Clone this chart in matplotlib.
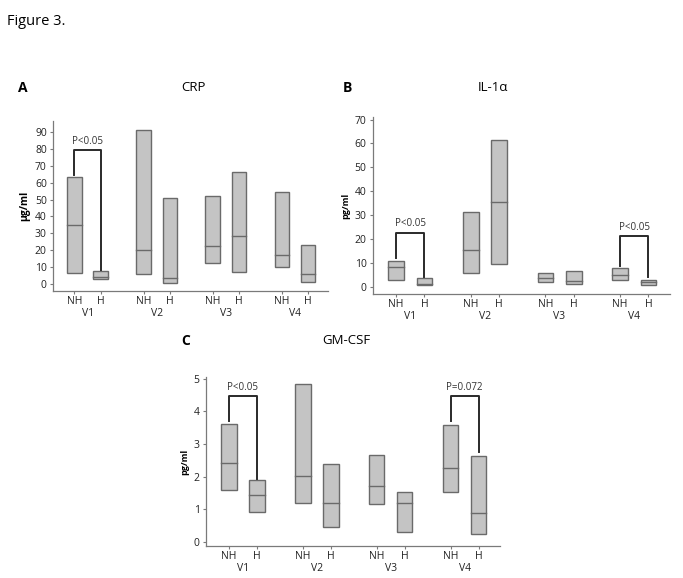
import numpy as np
import matplotlib
matplotlib.use('Agg')
import matplotlib.pyplot as plt

plt.rcParams['font.family'] = ['Open Sans', 'DejaVu Sans']

visits = ['V1', 'V2', 'V3', 'V4']
groups = ['NH', 'H']

# CRP (µg/ml): bottom, median, top of each box
crp_nh_low = [6.5, 6.1, 12.3, 10.3]
crp_nh_med = [34.7, 20.0, 22.8, 17.0]
crp_nh_high = [63.6, 91.4, 52.0, 54.3]
crp_h_low = [3.2, 0.8, 6.9, 1.4]
crp_h_med = [4.4, 3.4, 28.7, 5.7]
crp_h_high = [7.9, 50.8, 66.2, 23.4]

# IL-1a (pg/ml)
il_nh_low = [2.8, 5.7, 2.1, 2.9]
il_nh_med = [8.6, 15.7, 3.8, 5.0]
il_nh_high = [11.1, 31.2, 6.0, 8.1]
il_h_low = [0.7, 9.5, 1.4, 0.7]
il_h_med = [1.3, 35.5, 2.5, 2.2]
il_h_high = [3.9, 61.6, 6.7, 2.9]

# GM-CSF (pg/ml)
gm_nh_low = [1.60, 1.21, 1.15, 1.53]
gm_nh_med = [2.41, 2.03, 1.71, 2.28]
gm_nh_high = [3.61, 4.83, 2.65, 3.58]
gm_h_low = [0.93, 0.45, 0.32, 0.26]
gm_h_med = [1.45, 1.21, 1.21, 0.90]
gm_h_high = [1.89, 2.39, 1.52, 2.63]

# significance brackets: visit index, bar height, left leg end, right leg end, label
crp_sig = [(0, 79.5, 64.5, 8.5, 'P<0.05')]
il_sig = [(0, 22.7, 12.0, 4.3, 'P<0.05'), (3, 21.3, 8.8, 4.3, 'P<0.05')]
gm_sig = [(0, 4.47, 3.71, 1.92, 'P<0.05'), (3, 4.47, 3.71, 2.75, 'P=0.072')]

box_face = '#c4c4c4'
box_edge = '#6a6a6a'
axis_col = '#7a7a7a'
off = 0.19
width = 0.21


def draw_panel(ax, nh, h, sig, yticks, ylim, ylabel, ylabel_size, sig_pad):
    for i in range(len(visits)):
        for x, (lo, med, hi) in [(i - off, (nh[0][i], nh[1][i], nh[2][i])),
                                 (i + off, (h[0][i], h[1][i], h[2][i]))]:
            ax.bar(x, hi - lo, bottom=lo, width=width, color=box_face,
                   edgecolor=box_edge, linewidth=1.0, zorder=2)
            ax.plot([x - width / 2, x + width / 2], [med, med],
                    color=box_edge, linewidth=1.0, zorder=3)
    for vi, top, left_end, right_end, label in sig:
        xl, xr = vi - off, vi + off
        ax.plot([xl, xl, xr, xr], [left_end, top, top, right_end],
                color='#2a2a2a', linewidth=1.4, zorder=4)
        ax.text(vi, top + sig_pad, label, ha='center', va='bottom',
                fontsize=7, color='#333333')
    ax.set_xlim(-0.5, 3.48)
    ax.set_ylim(*ylim)
    ax.set_yticks(yticks)
    pos = []
    labs = []
    for i in range(len(visits)):
        pos += [i - off, i + off]
        labs += groups
    ax.set_xticks(pos)
    ax.set_xticklabels(labs)
    for i, v in enumerate(visits):
        ax.annotate(v, xy=(i, 0), xycoords=ax.get_xaxis_transform(),
                    xytext=(0, -16.5), textcoords='offset points',
                    ha='center', va='center', fontsize=7.5, color='#222222')
    ax.tick_params(axis='both', labelsize=7.5, length=2.5, width=0.8,
                   color=axis_col, labelcolor='#222222', pad=2)
    ax.tick_params(axis='x', pad=1)
    for s in ['top', 'right']:
        ax.spines[s].set_visible(False)
    for s in ['left', 'bottom']:
        ax.spines[s].set_color(axis_col)
        ax.spines[s].set_linewidth(0.9)
    ax.set_ylabel(ylabel, fontsize=ylabel_size, fontweight='bold', labelpad=3)


fig = plt.figure(figsize=(6.83, 5.78), dpi=100)
fig.text(0.010, 0.975, 'Figure 3.', fontsize=10.5, ha='left', va='top')

ax_a = fig.add_axes([0.0776, 0.4965, 0.403, 0.294])
draw_panel(ax_a, (crp_nh_low, crp_nh_med, crp_nh_high),
           (crp_h_low, crp_h_med, crp_h_high), crp_sig,
           np.arange(0, 100, 10), (-4.1, 96.4), 'µg/ml', 7.5, 1.5)
fig.text(0.026, 0.848, 'A', fontsize=10, fontweight='bold', va='center')
fig.text(0.283, 0.849, 'CRP', fontsize=9.5, ha='center', va='center')

ax_b = fig.add_axes([0.546, 0.4913, 0.435, 0.306])
draw_panel(ax_b, (il_nh_low, il_nh_med, il_nh_high),
           (il_h_low, il_h_med, il_h_high), il_sig,
           np.arange(0, 80, 10), (-2.9, 71.0), 'pg/ml', 6.5, 1.5)
fig.text(0.502, 0.848, 'B', fontsize=10, fontweight='bold', va='center')
fig.text(0.722, 0.849, 'IL-1α', fontsize=9.5, ha='center', va='center')

ax_c = fig.add_axes([0.3016, 0.0554, 0.4305, 0.2924])
draw_panel(ax_c, (gm_nh_low, gm_nh_med, gm_nh_high),
           (gm_h_low, gm_h_med, gm_h_high), gm_sig,
           np.arange(0, 6, 1), (-0.12, 5.05), 'pg/ml', 6.5, 0.1)
fig.text(0.266, 0.410, 'C', fontsize=10, fontweight='bold', va='center')
fig.text(0.507, 0.411, 'GM-CSF', fontsize=9.5, ha='center', va='center')

fig.savefig('out.png', dpi=100)
